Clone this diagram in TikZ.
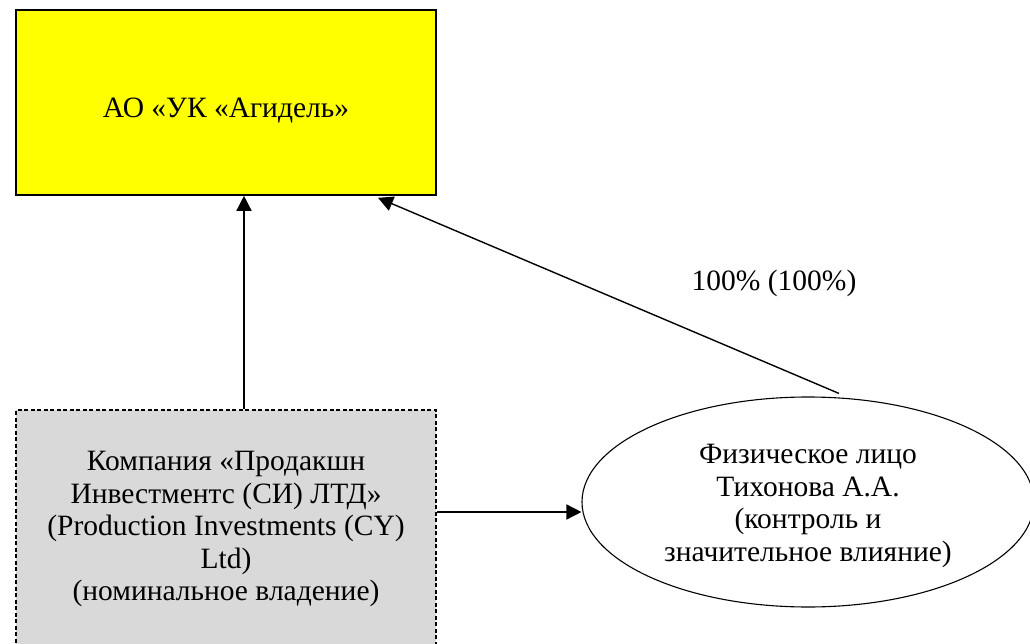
\documentclass[tikz,border=0pt]{standalone}
\usepackage{fontspec}
\setmainfont{Liberation Serif}
\usetikzlibrary{arrows.meta,shapes.geometric}
\begin{document}
\begin{tikzpicture}[x=1pt,y=-1pt,
  txt/.style={font=\fontsize{29.5}{32.5}\selectfont, align=center},
  conn/.style={line width=1.4pt, -{Triangle[length=15pt,width=15pt]}}]
\useasboundingbox (0,0) rectangle (1030,644);
\clip (0,0) rectangle (1030,644);
\fill[white] (0,0) rectangle (1030,644);
\node[txt, draw, line width=1.6pt, fill={rgb,255:red,255;green,255;blue,0},
  minimum width=420pt, minimum height=185pt, inner sep=0pt] (yb) at (226,102.5)
  {\raisebox{-8pt}[\height][\depth]{АО «УК «Агидель»}};
\node[txt, draw, line width=1.6pt, dash pattern=on 4pt off 2.5pt,
  fill={rgb,255:red,217;green,217;blue,217},
  minimum width=420pt, minimum height=238pt, inner sep=0pt] (gb) at (226,529)
  {Компания «Продакшн\\Инвестментс (СИ) ЛТД»\\(Production Investments (CY)\\Ltd)\\(номинальное владение)};
\node[txt, draw, ellipse, line width=1.1pt, minimum width=452pt, minimum height=210pt,
  inner sep=0pt] (el) at (808,502)
  {\raisebox{-4pt}[\height][\depth]{\begin{tabular}{@{}c@{}}Физическое лицо\\Тихонова А.А.\\(контроль и\\значительное влияние)\end{tabular}}};
\draw[conn] ([xshift=18pt]gb.north) -- ([xshift=18pt]yb.south);
\draw[conn] ([xshift=31pt,yshift=3pt]el.north) -- ([xshift=152pt,yshift=-2pt]yb.south);
\coordinate (hs) at ([yshift=17pt]gb.east);
\draw[conn] (hs) -- (hs -| el.west);
\node[txt] (lbl) at (774,283) {100\% (100\%)};
\end{tikzpicture}
\end{document}
